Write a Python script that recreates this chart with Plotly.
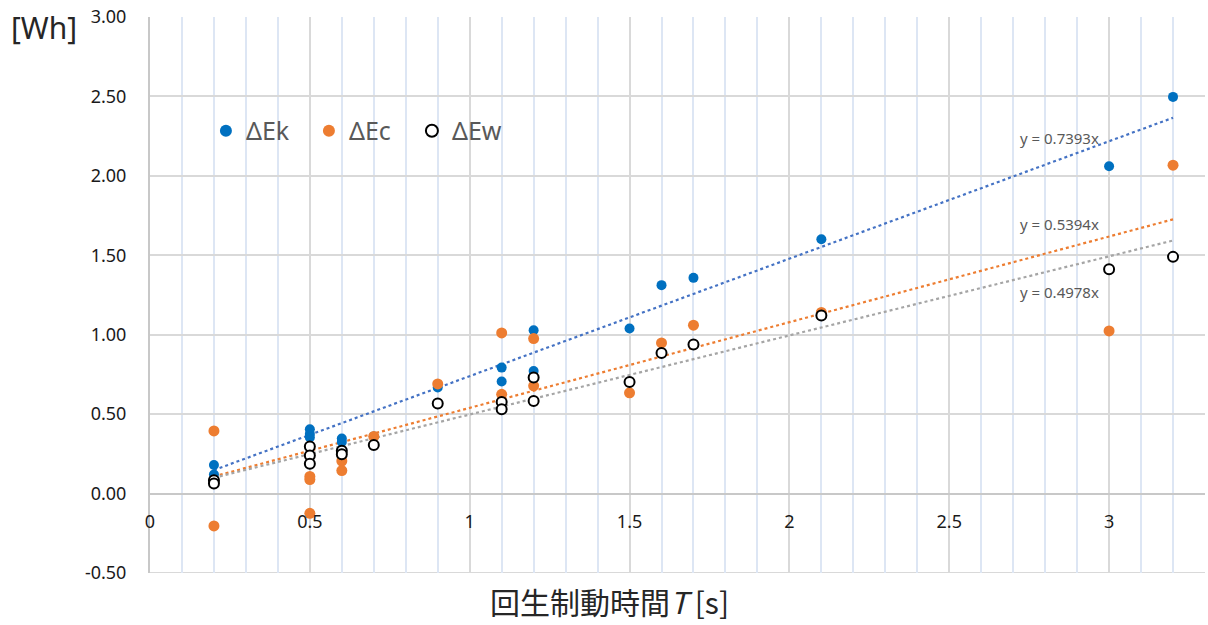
import plotly.graph_objects as go

# Regenerative braking time T [s] and energy values [Wh]
t_ek = [0.2, 0.2, 0.5, 0.5, 0.5, 0.6, 0.6, 0.7, 0.9, 1.1, 1.1, 1.2, 1.2, 1.5, 1.6, 1.7, 2.1, 3.0, 3.2]
delta_ek = [0.18, 0.12, 0.405, 0.375, 0.353, 0.346, 0.325, 0.36, 0.668, 0.793, 0.705, 1.028, 0.772, 1.039, 1.312, 1.358, 1.601, 2.061, 2.497]

t_ec = [0.2, 0.2, 0.5, 0.5, 0.5, 0.6, 0.6, 0.7, 0.9, 1.1, 1.1, 1.2, 1.2, 1.5, 1.6, 1.7, 2.1, 3.0, 3.2]
delta_ec = [0.394, -0.204, 0.108, 0.088, -0.124, 0.205, 0.145, 0.36, 0.69, 1.011, 0.625, 0.976, 0.678, 0.634, 0.948, 1.06, 1.14, 1.024, 2.067]

t_ew = [0.2, 0.2, 0.5, 0.5, 0.5, 0.6, 0.6, 0.7, 0.9, 1.1, 1.1, 1.2, 1.2, 1.5, 1.6, 1.7, 2.1, 3.0, 3.2]
delta_ew = [0.084, 0.063, 0.296, 0.24, 0.188, 0.27, 0.247, 0.306, 0.567, 0.577, 0.531, 0.73, 0.583, 0.703, 0.885, 0.938, 1.121, 1.412, 1.49]

# Through-origin linear trend slopes
slope_ek = 0.7393
slope_ec = 0.5394
slope_ew = 0.4978
trend_range = [0.2, 3.2]

x_tickvals = [0, 0.5, 1, 1.5, 2, 2.5, 3]
x_ticktext = ["0", "0.5", "1", "1.5", "2", "2.5", "3"]
y_tickvals = [-0.5, 0.0, 0.5, 1.0, 1.5, 2.0, 2.5, 3.0]
y_ticktext = ["-0.50", "0.00", "0.50", "1.00", "1.50", "2.00", "2.50", "3.00"]

BLUE = "#0070C0"
ORANGE = "#ED7D31"
GRID = "#D9D9D9"
FONT = "Noto Sans"

fig = go.Figure()

# Dotted trend lines (drawn first so markers sit on top)
for slope, color in [(slope_ek, "#4472C4"), (slope_ec, "#ED7D31"), (slope_ew, "#A5A5A5")]:
    fig.add_trace(go.Scatter(
        x=trend_range, y=[slope * v for v in trend_range], mode="lines",
        line=dict(color=color, width=2.2, dash="dot"),
        showlegend=False, hoverinfo="skip"))

fig.add_trace(go.Scatter(
    x=t_ek, y=delta_ek, mode="markers", name="ΔEk",
    marker=dict(color=BLUE, size=10, line=dict(width=0))))
fig.add_trace(go.Scatter(
    x=t_ec, y=delta_ec, mode="markers", name="ΔEc",
    marker=dict(color=ORANGE, size=11, line=dict(width=0))))
fig.add_trace(go.Scatter(
    x=t_ew, y=delta_ew, mode="markers", name="ΔEw",
    marker=dict(color="white", size=10, line=dict(color="black", width=2))))

# Trend equations
for slope, ypos in [(slope_ek, 2.237), (slope_ec, 1.696), (slope_ew, 1.268)]:
    fig.add_annotation(
        x=2.846, y=ypos, xref="x", yref="y", text=f"y = {slope}x",
        showarrow=False, font=dict(family=FONT, size=15, color="#595959"))

# Axis titles
fig.add_annotation(
    x=0.436, y=-0.05, xref="paper", yref="paper",
    text="回生制動時間<i>T</i> [s]", showarrow=False,
    xanchor="center", yanchor="middle",
    font=dict(family="Noto Sans CJK JP", size=30, color="#262626"))
fig.add_annotation(
    x=-0.1005, y=0.982, xref="paper", yref="paper",
    text="[Wh]", showarrow=False, xanchor="center", yanchor="middle",
    font=dict(family=FONT, size=30, color="#262626"))

# Bottom border of the plot area
fig.add_shape(type="line", xref="paper", yref="y", x0=0, x1=1, y0=-0.5, y1=-0.5,
              line=dict(color=GRID, width=2), layer="below")

fig.update_layout(
    width=1208, height=625,
    margin=dict(l=150, r=3, t=17, b=52),
    paper_bgcolor="white", plot_bgcolor="white",
    hovermode=False,
    font=dict(family=FONT, size=18, color="#1a1a1a"),
    legend=dict(
        orientation="h", x=0.053, y=0.795, xanchor="left", yanchor="middle",
        bgcolor="rgba(0,0,0,0)", font=dict(family=FONT, size=25, color="#595959"),
        entrywidth=58, entrywidthmode="pixels", itemsizing="constant"),
    xaxis=dict(
        range=[0, 3.3], tickvals=x_tickvals, ticktext=x_ticktext,
        anchor="free", position=0.5 / 3.5, side="bottom",
        showgrid=True, gridcolor=GRID, gridwidth=2,
        minor=dict(dtick=0.1, tick0=0, showgrid=True, gridcolor="#DDE6F4",
                   gridwidth=1.5, ticks=""),
        zeroline=False, showline=False, ticks="", ticklabelstandoff=15,
        tickfont=dict(family=FONT, size=18, color="#1a1a1a")),
    yaxis=dict(
        range=[-0.5, 3.0], tickvals=y_tickvals, ticktext=y_ticktext,
        showgrid=True, gridcolor=GRID, gridwidth=2,
        zeroline=True, zerolinecolor="#C8C8C8", zerolinewidth=2,
        showline=True, linecolor="#C8C8C8", linewidth=2,
        ticks="", ticklabelstandoff=18,
        tickfont=dict(family=FONT, size=18, color="#1a1a1a")),
)

fig.write_html("out.html")
